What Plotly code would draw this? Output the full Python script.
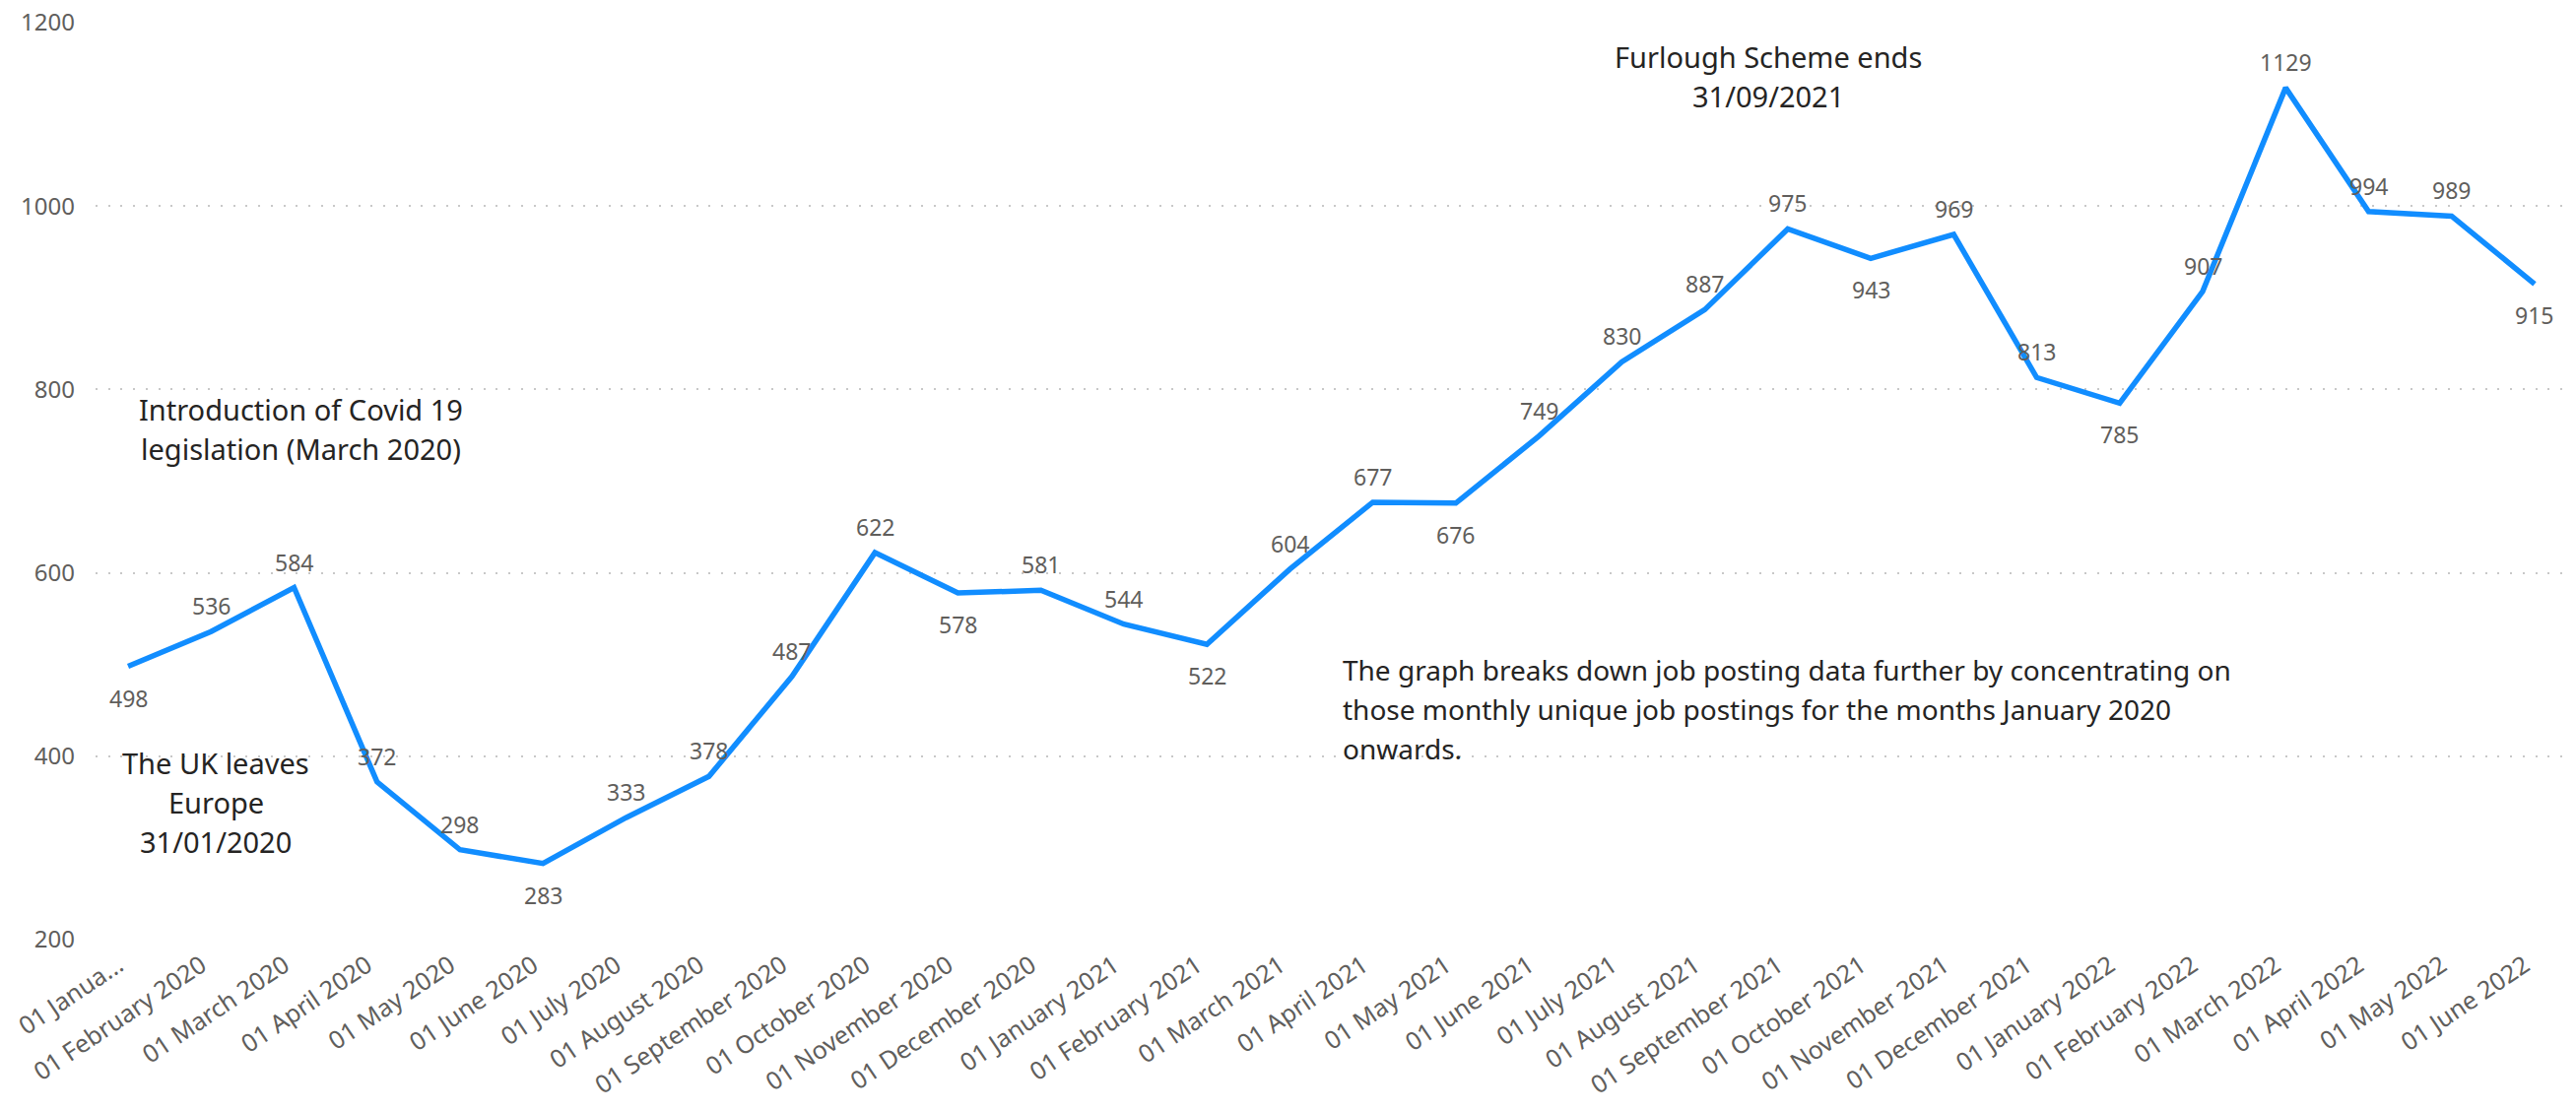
import plotly.graph_objects as go

months = ["01 January 2020", "01 February 2020", "01 March 2020", "01 April 2020", "01 May 2020",
          "01 June 2020", "01 July 2020", "01 August 2020", "01 September 2020", "01 October 2020",
          "01 November 2020", "01 December 2020", "01 January 2021", "01 February 2021", "01 March 2021",
          "01 April 2021", "01 May 2021", "01 June 2021", "01 July 2021", "01 August 2021",
          "01 September 2021", "01 October 2021", "01 November 2021", "01 December 2021",
          "01 January 2022", "01 February 2022", "01 March 2022", "01 April 2022", "01 May 2022",
          "01 June 2022"]
tick_labels = ["01 Janua..."] + months[1:]
postings = [498, 536, 584, 372, 298, 283, 333, 378, 487, 622, 578, 581, 544, 522, 604,
            677, 676, 749, 830, 887, 975, 943, 969, 813, 785, 907, 1129, 994, 989, 915]
label_side = ["below", "above", "above", "above", "above", "below", "above", "above", "above", "above",
              "below", "above", "above", "below", "above", "above", "below", "above", "above", "above",
              "above", "below", "above", "above", "below", "above", "above", "above", "above", "below"]
y_ticks = [200, 400, 600, 800, 1000, 1200]

FONT = "Segoe UI, Noto Sans, Open Sans, sans-serif"
LINE_COLOR = "#118DFF"
LABEL_COLOR = "#605E5C"
TEXT_COLOR = "#252423"

fig = go.Figure()
fig.add_trace(go.Scatter(
    x=list(range(len(months))), y=postings, mode="lines",
    line=dict(color=LINE_COLOR, width=5.5, shape="linear"),
    hoverinfo="skip", showlegend=False,
))

# data labels
for i, (v, side) in enumerate(zip(postings, label_side)):
    fig.add_annotation(
        x=i, y=v, text=str(v), showarrow=False,
        yanchor="bottom" if side == "above" else "top",
        yshift=8 if side == "above" else -14,
        font=dict(family=FONT, size=23, color=LABEL_COLOR),
    )

# text notes (each line placed separately)
notes = [
    (["Furlough Scheme ends", "31/09/2021"], 19.77, 1141, "center", 29),
    (["Introduction of Covid 19", "legislation (March 2020)"], 2.08, 757, "center", 29),
    (["The UK leaves", "Europe", "31/01/2020"], 1.06, 350, "center", 29),
    (["The graph breaks down job posting data further by concentrating on",
      "those monthly unique job postings for the months January 2020",
      "onwards."], 14.61, 451, "left", 28),
]
LINE_GAP = 40 / 0.931
for lines, xc, ymid, anchor, fsize in notes:
    n = len(lines)
    for k, t in enumerate(lines):
        yy = ymid + ((n - 1) / 2 - k) * LINE_GAP
        fig.add_annotation(
            x=xc, y=yy, text=t, showarrow=False, xanchor=anchor, yanchor="middle",
            align=anchor, font=dict(family=FONT, size=fsize, color=TEXT_COLOR),
        )

fig.update_layout(
    width=2615, height=1128,
    margin=dict(l=97, r=7, t=23, b=174),
    paper_bgcolor="white", plot_bgcolor="white",
    font=dict(family=FONT, color=LABEL_COLOR),
)
fig.update_xaxes(
    range=[-0.392, 29.416], tickmode="array", tickvals=list(range(len(months))),
    ticktext=tick_labels, tickangle=-34, showgrid=False, zeroline=False, showline=False,
    ticks="", automargin=False, ticklabelshift=-10, ticklabelstandoff=6,
    tickfont=dict(family=FONT, size=25, color=LABEL_COLOR),
)
fig.update_yaxes(
    range=[200, 1200], tickvals=y_ticks, showgrid=True, gridcolor="#C8C8C8",
    griddash="2px,10.7px", gridwidth=2, zeroline=False, showline=False, ticks="",
    automargin=False, ticklabelstandoff=20,
    tickfont=dict(family=FONT, size=24, color=LABEL_COLOR),
)

fig.write_html("out.html", config={"displayModeBar": False},
               post_script="document.body.style.margin='0';")
